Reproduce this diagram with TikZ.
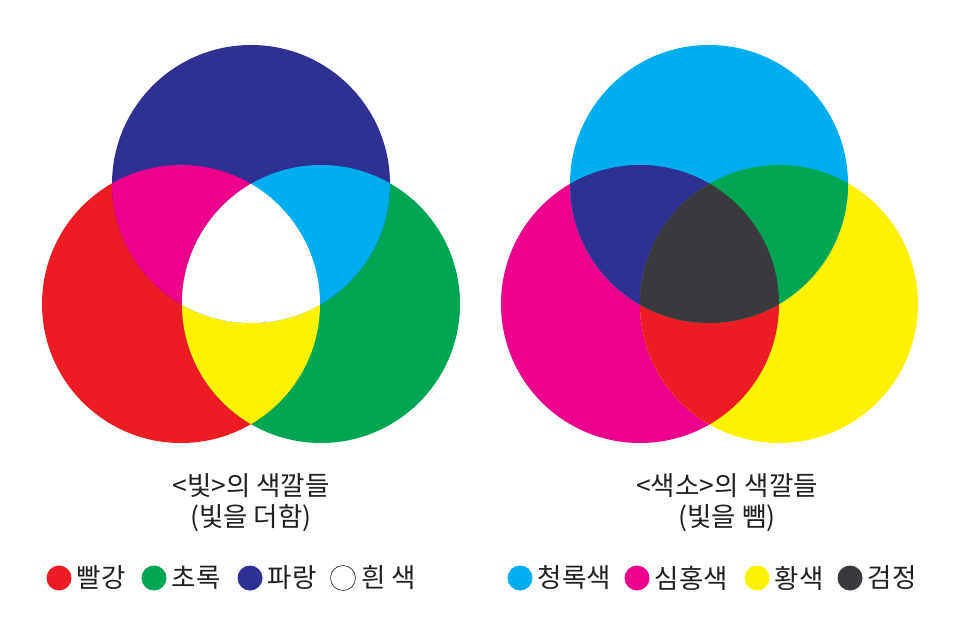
\documentclass[tikz,border=0pt]{standalone}
\usepackage{fontspec}
\setmainfont{Noto Sans CJK KR}
\usetikzlibrary{positioning}
\definecolor{cred}{HTML}{ED1C24}
\definecolor{cgreen}{HTML}{00A651}
\definecolor{cblue}{HTML}{2E3192}
\definecolor{ccyan}{HTML}{00AEEF}
\definecolor{cmagenta}{HTML}{EC008C}
\definecolor{cyellow}{HTML}{FFF200}
\definecolor{cblack}{HTML}{3A393E}
\definecolor{ctext}{HTML}{231F20}
\begin{document}
\begin{tikzpicture}[x=1pt,y=1pt,r/.style={radius=139},
	dot/.style={circle,minimum size=25pt,inner sep=0pt,fill=#1},
	lbl/.style={inner sep=0pt,text=ctext,font=\fontsize{26.5}{28}\selectfont},
	ttl/.style={align=center,text=ctext,font=\fontsize{26.5}{31}\selectfont}]
	\fill[white] (0,0) rectangle (960,640);
	\useasboundingbox (0,0) rectangle (960,640);
	\coordinate (B) at (251,456); \coordinate (R) at (181,336); \coordinate (G) at (321,336);
	\coordinate (C) at (709,456); \coordinate (M) at (640,336); \coordinate (Y) at (779,336);
	\fill[cred] (R) circle[r]; \fill[cgreen] (G) circle[r]; \fill[cblue] (B) circle[r];
	\begin{scope} \clip (R) circle[r]; \fill[cmagenta] (B) circle[r]; \fill[cyellow] (G) circle[r]; \end{scope}
	\begin{scope} \clip (G) circle[r]; \fill[ccyan] (B) circle[r]; \end{scope}
	\begin{scope} \clip (R) circle[r]; \clip (G) circle[r]; \fill[white] (B) circle[r]; \end{scope}
	\fill[cmagenta] (M) circle[r]; \fill[cyellow] (Y) circle[r]; \fill[ccyan] (C) circle[r];
	\begin{scope} \clip (M) circle[r]; \fill[cblue] (C) circle[r]; \fill[cred] (Y) circle[r]; \end{scope}
	\begin{scope} \clip (Y) circle[r]; \fill[cgreen] (C) circle[r]; \end{scope}
	\begin{scope} \clip (M) circle[r]; \clip (Y) circle[r]; \fill[cblack] (C) circle[r]; \end{scope}
	\node[ttl] (addtitle) at (251,137) {<빛>의 색깔들\\(빛을 더함)};
	\node[ttl] (subtitle) at (727,137) {<색소>의 색깔들\\(빛을 뺌)};
	\node[dot=cred] (lred) at (59,62) {}; \node[lbl,right=5pt of lred] {빨강};
	\node[dot=cgreen] (lgreen) at (154,62) {}; \node[lbl,right=5pt of lgreen] {초록};
	\node[dot=cblue] (lblue) at (250,62) {}; \node[lbl,right=5pt of lblue] {파랑};
	\node[dot=white,draw=ctext,line width=0.6pt] (lwhite) at (343,62) {}; \node[lbl,right=5pt of lwhite] {흰 색};
	\node[dot=ccyan] (lcyan) at (520,62) {}; \node[lbl,right=5pt of lcyan] {청록색};
	\node[dot=cmagenta] (lmagenta) at (637,62) {}; \node[lbl,right=5pt of lmagenta] {심홍색};
	\node[dot=cyellow] (lyellow) at (757,62) {}; \node[lbl,right=5pt of lyellow] {황색};
	\node[dot=cblack] (lblack) at (850,62) {}; \node[lbl,right=5pt of lblack] {검정};
\end{tikzpicture}
\end{document}
